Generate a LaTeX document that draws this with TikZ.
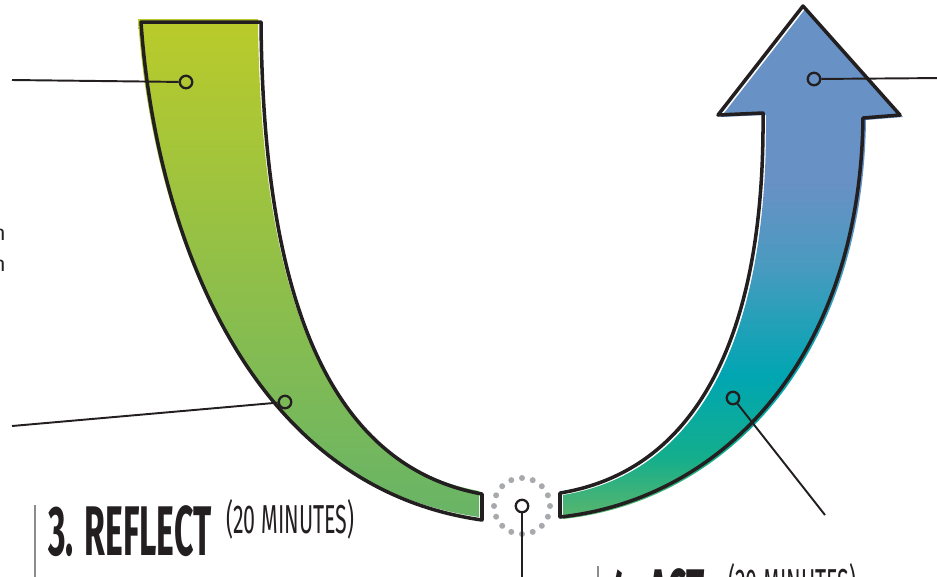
\documentclass[tikz,border=0pt]{standalone}
\usepackage{fontspec}
\setsansfont{Fira Sans}
\newfontfamily\handfont[FakeStretch=0.48]{Fira Sans}
\newfontfamily\handthin[FakeStretch=0.53]{Fira Sans}
\usepackage{xcolor}
\usetikzlibrary{positioning}

\definecolor{reflecttop}{RGB}{186,203,42}
\definecolor{reflectbot}{RGB}{104,180,102}
\definecolor{actgreen}{RGB}{92,182,108}
\definecolor{actjade}{RGB}{20,174,140}
\definecolor{actteal}{RGB}{0,166,178}
\definecolor{actsky}{RGB}{74,154,192}
\definecolor{actblue}{RGB}{104,145,197}
\definecolor{dotgray}{RGB}{167,169,172}
\definecolor{inkdark}{RGB}{35,31,32}
\definecolor{rulegray}{RGB}{140,140,140}

\pgfdeclareverticalshading{actshading}{100bp}{
  color(0bp)=(actgreen); color(25bp)=(actgreen); color(31bp)=(actjade);
  color(39bp)=(actteal); color(50bp)=(actsky); color(58bp)=(actblue);
  color(100bp)=(actblue)}

% the two halves of the U
\newcommand{\reflectband}{(138,19) -- (258,19)
  .. controls (260,260) and (310,460) .. (479,491) -- (479,517)
  .. controls (230,482) and (150,200) .. (138,19) -- cycle}
\newcommand{\actarrow}{(806,8) -- (903,117) -- (866,120)
  .. controls (863,362) and (723,502) .. (563,519) -- (563,495)
  .. controls (703,472) and (768,332) .. (766,115) -- (721,117) -- cycle}

\begin{document}
\begin{tikzpicture}[
  x=0.02cm, y=-0.02cm,
  outline/.style={draw=inkdark, line width=2pt, line join=round},
  leader/.style={draw=inkdark, line width=1.1pt},
  pin dot/.style={circle, draw=inkdark, line width=1.3pt,
    minimum size=0.25cm, inner sep=0pt},
  title/.style={font=\handfont\bfseries\fontsize{40}{40}\selectfont,
    text=inkdark, inner sep=0pt},
  subtitle/.style={font=\handthin\fontsize{23}{23}\selectfont,
    text=inkdark, inner sep=0pt},
  cut text/.style={font=\sffamily\fontsize{12}{12}\selectfont,
    text=inkdark, inner sep=0pt}
]
\useasboundingbox (0,0) rectangle (937,576);
\clip (0,0) rectangle (937,576);

% bands
\shade[top color=reflecttop, bottom color=reflectbot] \reflectband;
\draw[outline, shift={(3,3)}] \reflectband;
\shade[shading=actshading] \actarrow;
\draw[outline, shift={(-3,-2)}] \actarrow;

% gap between the halves
\foreach \a in {0,22.5,...,337.5}
  \fill[dotgray] (522,506) ++(\a:28) circle (3);

% pins
\node[pin dot] (reflect top) at (186,82) {};
\node[pin dot] (reflect low) at (285,402) {};
\node[pin dot] (gap) at (522,506) {};
\node[pin dot] (act low) at (733,398) {};
\node[pin dot] (act top) at (814,79) {};

\coordinate (reflect top end) at (12,80);
\coordinate (reflect low end) at (12,426);
\coordinate (gap end) at (522,590);
\coordinate (act low end) at (825,515);
\coordinate (act top end) at (945,78);

\draw[leader] (reflect top end) -- (reflect top);
\draw[leader] (reflect low end) -- (reflect low);
\draw[leader] (gap) -- (gap end);
\draw[leader] (act low) -- (act low end);
\draw[leader] (act top) -- (act top end);

% cut-off side text
\node[cut text, anchor=base east] (side one) at (6,240) {n};
\node[cut text, anchor=base east] (side two) at (6,271) {n};

% step titles
\draw[rulegray, line width=0.8pt] (35,505) -- (35,580);
\node[title, anchor=base west] (reflect title) at (48,555) {3. REFLECT};
\node[subtitle, anchor=base west] (reflect time) at (226,533) {(20 MINUTES)};

\draw[rulegray, line width=0.8pt] (598,566) -- (598,580);
\node[title, anchor=base west] (act title) at (610,618) {4. ACT};
\node[subtitle, anchor=base west] (act time) at (728,597) {(20 MINUTES)};

\end{tikzpicture}
\end{document}
